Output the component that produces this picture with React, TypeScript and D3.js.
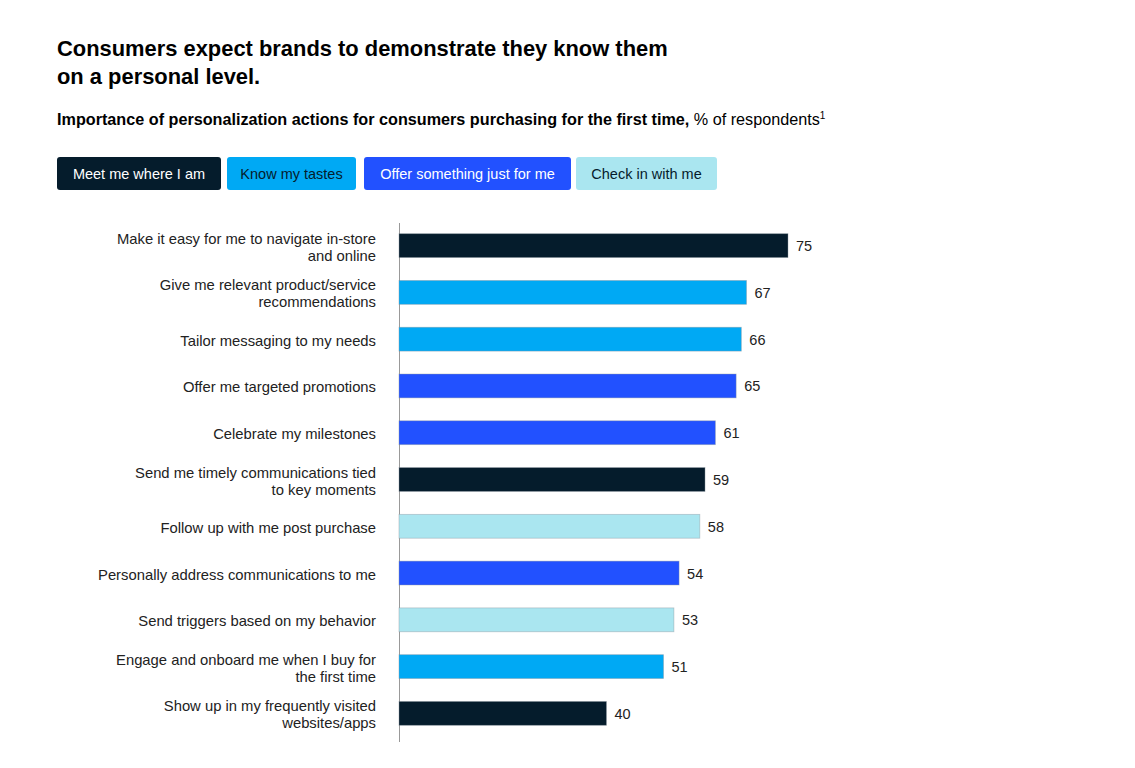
import React from "react";
import * as d3 from "d3";

const categories: string[][] = [
  ["Make it easy for me to navigate in-store", "and online"],
  ["Give me relevant product/service", "recommendations"],
  ["Tailor messaging to my needs"],
  ["Offer me targeted promotions"],
  ["Celebrate my milestones"],
  ["Send me timely communications tied", "to key moments"],
  ["Follow up with me post purchase"],
  ["Personally address communications to me"],
  ["Send triggers based on my behavior"],
  ["Engage and onboard me when I buy for", "the first time"],
  ["Show up in my frequently visited", "websites/apps"],
];
const values: number[] = [75, 67, 66, 65, 61, 59, 58, 54, 53, 51, 40];
const groups: number[] = [0, 1, 1, 2, 2, 0, 3, 2, 3, 1, 0];
const groupNames: string[] = ["Meet me where I am", "Know my tastes", "Offer something just for me", "Check in with me"];
const groupColors: string[] = ["#051c2c", "#00a9f4", "#2251ff", "#aae6f0"];
const groupText: string[] = ["#ffffff", "#051c2c", "#ffffff", "#051c2c"];

const FONT = "'Liberation Sans', Arial, sans-serif";

export default function App() {
  const W = 1135, H = 768;
  const x = d3.scaleLinear().domain([0, 75]).range([399, 788]);
  const y = d3.scaleBand<number>().domain(d3.range(values.length)).range([222, 737]).paddingInner(0.49).paddingOuter(0.25);

  const legendBoxes = [
    { x0: 57, x1: 221 },
    { x0: 227, x1: 356 },
    { x0: 364, x1: 571 },
    { x0: 576, x1: 717 },
  ];

  return (
    <svg width={W} height={H} style={{ position: "absolute", left: 0, top: 0 }} fontFamily={FONT}>
      <rect width={W} height={H} fill="#fff" />
      <text x={57} y={56} fontSize={21.9} fontWeight="bold" fill="#000">
        <tspan x={57} dy={0}>Consumers expect brands to demonstrate they know them</tspan>
        <tspan x={57} dy={28}>on a personal level.</tspan>
      </text>
      <text x={57} y={125} fontSize={16.2} fill="#000">
        <tspan fontWeight="bold">Importance of personalization actions for consumers purchasing for the first time,</tspan>
        <tspan> % of respondents</tspan>
        <tspan fontSize={10} dy={-6}>1</tspan>
      </text>
      {groupNames.map((g, i) => (
        <g key={g}>
          <rect x={legendBoxes[i].x0} y={157} width={legendBoxes[i].x1 - legendBoxes[i].x0} height={33} rx={3} fill={groupColors[i]} />
          <text x={(legendBoxes[i].x0 + legendBoxes[i].x1) / 2} y={178.5} fontSize={14.5} textAnchor="middle" fill={groupText[i]}>{g}</text>
        </g>
      ))}
      <line x1={399.5} x2={399.5} y1={223} y2={742} stroke="#999" strokeWidth={1} />
      {values.map((v, i) => {
        const yy = y(i)!;
        const bw = y.bandwidth();
        const cy = yy + bw / 2;
        const lines = categories[i];
        const lh = 17;
        return (
          <g key={i}>
            <rect x={x(0)} y={yy} width={x(v) - x(0)} height={bw} fill={groupColors[groups[i]]} stroke="rgba(140,150,160,0.5)" strokeWidth={0.8} />
            <text x={x(v) + 8} y={cy + 5.5} fontSize={14.5} fill="#222">{v}</text>
            <text x={376} y={cy + 6.5 - ((lines.length - 1) * lh) / 2} fontSize={14.8} textAnchor="end" fill="#222">
              {lines.map((l, k) => (
                <tspan key={k} x={376} dy={k === 0 ? 0 : lh}>{l}</tspan>
              ))}
            </text>
          </g>
        );
      })}
    </svg>
  );
}
